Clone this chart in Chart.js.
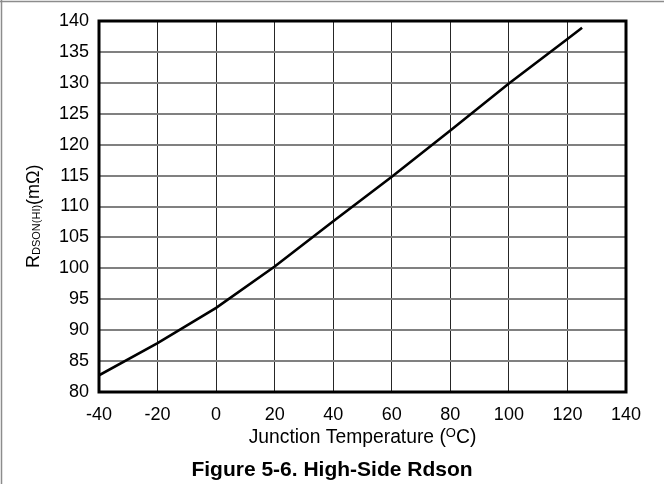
<!DOCTYPE html>
<html>
<head>
<meta charset="utf-8">
<script src="https://cdn.jsdelivr.net/npm/chart.js"></script>
<style>
  html, body { margin: 0; padding: 0; background: #fff; }
  canvas { display: block; }
</style>
</head>
<body>
<canvas id="rdson" width="664" height="484"></canvas>

<script>
    // values
    const temps = [-40, -20, 0, 20, 40, 60, 80, 100, 120, 125];
    const rdson = [82.7, 87.9, 93.6, 100.3, 107.6, 114.8, 122.3, 129.9, 137.1, 138.9];

    const xTitle = ['Junction Temperature (', 'O', 'C)'];
    const yTitle = ['R', 'DSON(HI)', '(mΩ)'];
    const caption = 'Figure 5-6. High-Side Rdson';

    const FONT = '"Liberation Sans", Arial, sans-serif';

    const points = temps.map((t, i) => ({ x: t, y: rdson[i] }));

    // frame, plot box, axis titles with sub/superscripts and the caption
    const decorations = {
        id: 'decorations',
        afterDraw(chart) {
            const ctx = chart.ctx;
            const area = chart.chartArea;
            ctx.save();

            // page frame (top and left only)
            ctx.strokeStyle = '#8c8c8c';
            ctx.lineWidth = 1.5;
            ctx.beginPath();
            ctx.moveTo(0, 1.5);
            ctx.lineTo(664, 1.5);
            ctx.moveTo(1.5, 0);
            ctx.lineTo(1.5, 484);
            ctx.stroke();

            // heavy box round the plot
            ctx.strokeStyle = '#000';
            ctx.lineWidth = 3;
            ctx.strokeRect(area.left, area.top, area.right - area.left, area.bottom - area.top);

            ctx.fillStyle = '#000';
            ctx.textBaseline = 'alphabetic';
            ctx.textAlign = 'left';

            // x title
            const big = '19.3px ' + FONT;
            const small = '13px ' + FONT;
            ctx.font = big;
            const w0 = ctx.measureText(xTitle[0]).width;
            const w2 = ctx.measureText(xTitle[2]).width;
            ctx.font = small;
            const w1 = ctx.measureText(xTitle[1]).width;
            let x = (area.left + area.right) / 2 - (w0 + w1 + w2) / 2;
            ctx.font = big;
            ctx.fillText(xTitle[0], x, 442.5);
            x += w0;
            ctx.font = small;
            ctx.fillText(xTitle[1], x, 436.5);
            x += w1;
            ctx.font = big;
            ctx.fillText(xTitle[2], x, 442.5);

            // y title, rotated
            ctx.translate(38.5, 268);
            ctx.rotate(-Math.PI / 2);
            let p = 0;
            ctx.font = '18px ' + FONT;
            ctx.fillText(yTitle[0], p, 0);
            p += ctx.measureText(yTitle[0]).width;
            ctx.font = '11px ' + FONT;
            ctx.fillText(yTitle[1], p, 1);
            p += ctx.measureText(yTitle[1]).width;
            ctx.font = '18px ' + FONT;
            ctx.fillText(yTitle[2], p, 0);
            ctx.setTransform(1, 0, 0, 1, 0, 0);

            // caption
            ctx.font = 'bold 21px ' + FONT;
            ctx.textAlign = 'center';
            ctx.fillText(caption, 332, 476);

            ctx.restore();
        }
    };

    new Chart(document.getElementById('rdson'), {
        type: 'line',
        data: {
            datasets: [{
                data: points,
                borderColor: '#000',
                borderWidth: 2.6,
                pointRadius: 0,
                tension: 0,
                fill: false
            }]
        },
        options: {
            responsive: false,
            animation: false,
            devicePixelRatio: 1,
            layout: {
                padding: { left: 0, top: 21, right: 38, bottom: 52 }
            },
            plugins: {
                legend: { display: false },
                tooltip: { enabled: false }
            },
            scales: {
                x: {
                    type: 'linear',
                    min: -40,
                    max: 140,
                    afterFit(s) { s.height = 40; },
                    ticks: {
                        stepSize: 20,
                        padding: 12,
                        color: '#000',
                        font: { family: FONT, size: 18 }
                    },
                    grid: { color: '#262626', lineWidth: 1, drawTicks: false },
                    border: { display: false }
                },
                y: {
                    min: 80,
                    max: 140,
                    afterFit(s) { s.width = 99; },
                    ticks: {
                        stepSize: 5,
                        padding: 10,
                        color: '#000',
                        font: { family: FONT, size: 18 }
                    },
                    grid: { color: '#808080', lineWidth: 2, drawTicks: false },
                    border: { display: false }
                }
            }
        },
        plugins: [decorations]
    });
</script>
</body>
</html>
